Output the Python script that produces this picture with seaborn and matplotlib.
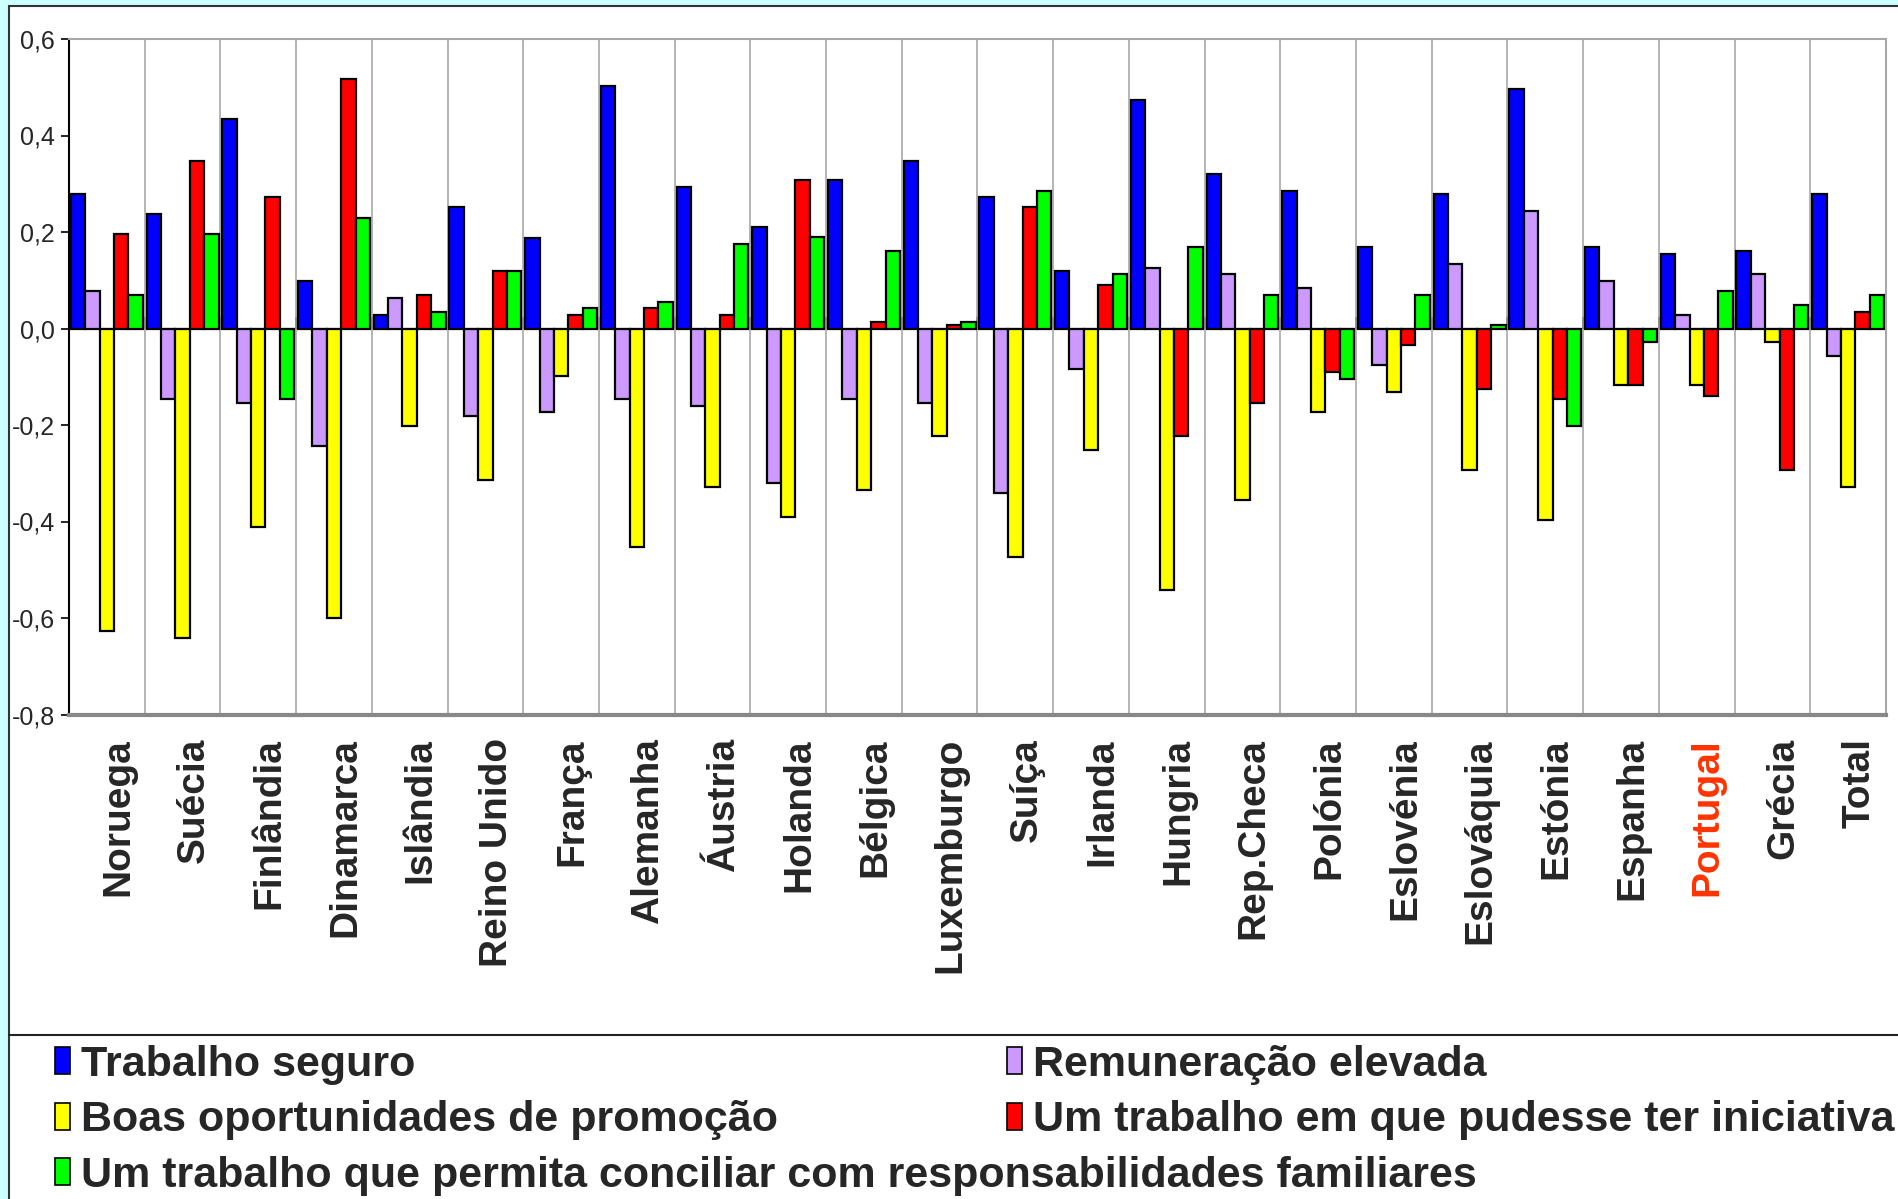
import matplotlib
matplotlib.use("Agg")
import matplotlib.pyplot as plt
import seaborn as sns
import pandas as pd
from matplotlib.patches import Patch, Rectangle
from matplotlib.lines import Line2D
from matplotlib.transforms import ScaledTranslation

countries = ["Noruega", "Suécia", "Finlândia", "Dinamarca", "Islândia", "Reino Unido",
             "França", "Alemanha", "Áustria", "Holanda", "Bélgica", "Luxemburgo",
             "Suíça", "Irlanda", "Hungria", "Rep.Checa", "Polónia", "Eslovénia",
             "Eslováquia", "Estónia", "Espanha", "Portugal", "Grécia", "Total"]

series = ["Trabalho seguro", "Remuneração elevada", "Boas oportunidades de promoção",
          "Um trabalho em que pudesse ter iniciativa",
          "Um trabalho que permita conciliar com responsabilidades familiares"]

colors = ["#0000FF", "#CC99FF", "#FFFF00", "#FF0000", "#00FF00"]

trabalho_seguro = [0.279, 0.238, 0.434, 0.098, 0.029, 0.252, 0.188, 0.503, 0.293, 0.210,
                   0.307, 0.348, 0.272, 0.119, 0.474, 0.321, 0.286, 0.168, 0.279, 0.496,
                   0.168, 0.154, 0.161, 0.279]
remuneracao = [0.077, -0.146, -0.154, -0.244, 0.063, -0.181, -0.174, -0.146, -0.160, -0.320,
               -0.146, -0.154, -0.341, -0.083, 0.126, 0.112, 0.084, -0.076, 0.133, 0.244,
               0.098, 0.028, 0.112, -0.056]
promocao = [-0.627, -0.641, -0.411, -0.599, -0.202, -0.313, -0.098, -0.452, -0.328, -0.390,
            -0.335, -0.222, -0.474, -0.251, -0.543, -0.355, -0.174, -0.132, -0.293, -0.397,
            -0.118, -0.118, -0.028, -0.328]
iniciativa = [0.195, 0.348, 0.272, 0.517, 0.070, 0.119, 0.028, 0.042, 0.028, 0.307,
              0.014, 0.007, 0.251, 0.091, -0.222, -0.154, -0.090, -0.035, -0.125, -0.146,
              -0.118, -0.140, -0.293, 0.035]
conciliar = [0.070, 0.195, -0.146, 0.230, 0.035, 0.119, 0.043, 0.055, 0.175, 0.189,
             0.161, 0.014, 0.286, 0.112, 0.168, 0.070, -0.105, 0.070, 0.007, -0.202,
             -0.028, 0.077, 0.049, 0.070]

y_ticks = [-0.8, -0.6, -0.4, -0.2, 0.0, 0.2, 0.4, 0.6]
y_tick_labels = ["-0,8", "-0,6", "-0,4", "-0,2", "0,0", "0,2", "0,4", "0,6"]

values = [trabalho_seguro, remuneracao, promocao, iniciativa, conciliar]
rows = []
for s, vals in zip(series, values):
    for c, v in zip(countries, vals):
        rows.append({"country": c, "serie": s, "value": v})
df = pd.DataFrame(rows)

sns.set_style("white")
plt.rcParams["font.family"] = ["Liberation Sans", "DejaVu Sans"]

W, H = 1899, 1199
fig = plt.figure(figsize=(W / 100, H / 100), dpi=100)
fig.patch.set_facecolor("#CCFFFF")
# white chart area with dark frame (left/top)
fig.add_artist(Rectangle((9 / W, -0.05), 1.1, 1 - 6 / H + 0.05, transform=fig.transFigure,
                         facecolor="white", edgecolor="#333333", linewidth=1.5, zorder=-10))
# separator line above legend
fig.add_artist(Line2D([9 / W, 1.0], [1 - 1035 / H, 1 - 1035 / H], transform=fig.transFigure,
                      color="#222222", linewidth=1.5))

left, right = 69 / W, 1886 / W
top, bottom = 1 - 39 / H, 1 - 714.5 / H
ax = fig.add_axes([left, bottom, right - left, top - bottom])
ax.set_facecolor("white")

sns.barplot(data=df, x="country", y="value", hue="serie", order=countries,
            hue_order=series, palette=colors, width=0.95, saturation=1,
            edgecolor="black", linewidth=1.6, legend=False, ax=ax, errorbar=None)

ax.set_xlim(-0.5, len(countries) - 0.5)
ax.set_ylim(-0.8, 0.6)
ax.set_xlabel("")
ax.set_ylabel("")

ax.set_yticks(y_ticks)
ax.set_yticklabels(y_tick_labels, fontsize=18)
ax.tick_params(axis="y", direction="out", length=6, width=1.2, color="black", pad=4, left=True)

ax.set_xticks(range(len(countries)))
ax.set_xticklabels(countries, rotation=90, fontsize=28, fontweight="bold")
ax.tick_params(axis="x", which="major", length=0, pad=17)
ax.set_xticks([i - 0.5 for i in range(1, len(countries))], minor=True)
ax.tick_params(axis="x", which="minor", length=0)
ax.grid(False)
ax.grid(True, which="minor", axis="x", color="#A8A8A8", linewidth=1.2)
ax.set_axisbelow(True)

offset = ScaledTranslation(8 / 72, 0, fig.dpi_scale_trans)
for lbl in ax.get_xticklabels():
    lbl.set_transform(lbl.get_transform() + offset)
    if lbl.get_text() == "Portugal":
        lbl.set_color("#FF3300")

for side in ["top", "right"]:
    ax.spines[side].set_color("#A8A8A8")
    ax.spines[side].set_linewidth(1.5)
ax.spines["bottom"].set_color("#888888")
ax.spines["bottom"].set_linewidth(3)
ax.spines["left"].set_color("black")
ax.spines["left"].set_linewidth(1.5)

# zero axis with tick marks between categories
zero_pos = (0 - (-0.8)) / (0.6 - (-0.8))
sec = ax.secondary_xaxis(zero_pos)
sec.set_xticks([i - 0.5 for i in range(len(countries) + 1)])
sec.set_xticklabels([])
sec.tick_params(axis="x", direction="out", length=8, width=1.2, color="black")
sec.spines["bottom"].set_color("black")
sec.spines["bottom"].set_linewidth(1.6)

legend_font = {"family": "Liberation Sans", "weight": "bold", "size": 31}
handles = [Patch(facecolor=c, edgecolor="black", linewidth=1.2) for c in colors]

common = dict(prop=legend_font, frameon=False, handlelength=0.35, handleheight=0.6,
              handletextpad=0.25, labelspacing=0.36, borderaxespad=0, borderpad=0)
leg1 = fig.legend([handles[0], handles[2], handles[4]], [series[0], series[2], series[4]],
                  loc="upper left", bbox_to_anchor=(55 / W, 1 - 1045 / H), **common)
leg2 = fig.legend([handles[1], handles[3]], [series[1], series[3]],
                  loc="upper left", bbox_to_anchor=(1007 / W, 1 - 1045 / H), **common)

fig.savefig("out.png", dpi=100, facecolor=fig.get_facecolor())
